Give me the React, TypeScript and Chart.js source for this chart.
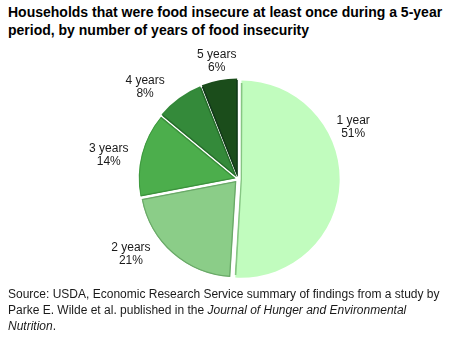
import React, { useEffect, useRef } from 'react';
import { Chart, registerables } from 'chart.js';

Chart.register(...registerables);

const titleLines = [
  'Households that were food insecure at least once during a 5-year',
  'period, by number of years of food insecurity',
];
const categories = ['1 year', '2 years', '3 years', '4 years', '5 years'];
const shares = [51, 21, 14, 8, 6];
const sliceColors = ['#c1fcbe', '#8bcd88', '#4cae4c', '#348a3a', '#1b4d1b'];
const sliceBorders = ['#86c683', '#6aa968', '#3b923c', '#276e2c', '#12391a'];

// label block centres, in units of the visible pie radius, relative to the pie centre
const LABEL_ANCHORS: [number, number][] = [
  [1.14, -0.51],
  [-1.06, 0.74],
  [-1.28, -0.24],
  [-0.92, -0.91],
  [-0.21, -1.17],
];

const FONT = '"Liberation Sans", Arial, Helvetica, sans-serif';

const labelPlugin = {
  id: 'sliceLabels',
  afterDatasetsDraw(chart: any) {
    const meta = chart.getDatasetMeta(0);
    const ctx = chart.ctx as CanvasRenderingContext2D;
    ctx.save();
    ctx.font = `12px ${FONT}`;
    ctx.fillStyle = '#1a1a1a';
    ctx.textAlign = 'center';
    ctx.textBaseline = 'middle';
    meta.data.forEach((arc: any, i: number) => {
      const { x, y, outerRadius } = arc.getProps(['x', 'y', 'outerRadius'], true);
      const r = outerRadius + 5;
      const [fx, fy] = LABEL_ANCHORS[i];
      const cx = x + fx * r;
      const cy = y + fy * r;
      ctx.fillText(categories[i], cx, cy - 6.5);
      ctx.fillText(`${shares[i]}%`, cx, cy + 6.5);
    });
    ctx.restore();
  },
};

export default function App() {
  const canvasRef = useRef<HTMLCanvasElement | null>(null);

  useEffect(() => {
    if (!canvasRef.current) return;
    const chart = new Chart(canvasRef.current, {
      type: 'pie',
      data: {
        labels: categories,
        datasets: [
          {
            data: shares,
            backgroundColor: sliceColors,
            borderColor: sliceBorders,
            borderWidth: 1,
            borderAlign: 'inner',
            offset: 12,
          },
        ],
      },
      options: {
        responsive: false,
        animation: false,
        layout: { padding: { left: 136, right: 110, top: 37, bottom: 9 } },
        plugins: {
          legend: { display: false },
          tooltip: { enabled: false },
          title: { display: false },
        },
      },
      plugins: [labelPlugin],
    });
    return () => chart.destroy();
  }, []);

  return (
    <div style={{ position: 'absolute', left: 0, top: 0, width: 450, height: 340, background: '#fff', overflow: 'hidden' }}>
      <div
        style={{
          position: 'absolute',
          left: 8,
          top: 3,
          fontFamily: FONT,
          fontWeight: 'bold',
          fontSize: 14,
          lineHeight: '18px',
          color: '#000',
          whiteSpace: 'nowrap',
        }}
      >
        {titleLines.map((t, i) => (
          <div key={i}>{t}</div>
        ))}
      </div>
      <canvas ref={canvasRef} width={450} height={250} style={{ position: 'absolute', left: 0, top: 40, width: 450, height: 250 }} />
      <div
        style={{
          position: 'absolute',
          left: 8,
          top: 286,
          fontFamily: FONT,
          fontSize: 12,
          lineHeight: '16px',
          color: '#1a1a1a',
          whiteSpace: 'nowrap',
        }}
      >
        <div>Source: USDA, Economic Research Service summary of findings from a study by</div>
        <div>
          Parke E. Wilde et al. published in the <i>Journal of Hunger and Environmental</i>
        </div>
        <div>
          <i>Nutrition</i>.
        </div>
      </div>
    </div>
  );
}
